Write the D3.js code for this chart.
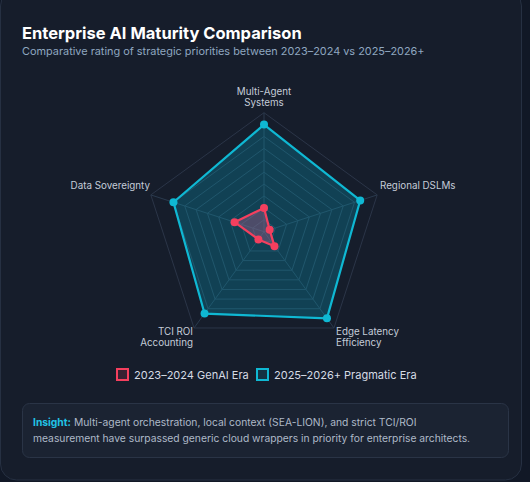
<!DOCTYPE html>
<html><head><meta charset="utf-8">
<script src="https://cdn.jsdelivr.net/npm/d3@7"></script>
<style>
body{margin:0;background:#111826;font-family:Inter,"Noto Sans",sans-serif;}
</style></head>
<body><svg id="chart" width="530" height="482"></svg>
<script>
const axes = [["Multi-Agent", "Systems"], ["Regional DSLMs"], ["Edge Latency", "Efficiency"], ["TCI ROI", "Accounting"], ["Data Sovereignty"]];
const era2023 = [2, 0.5, 1.5, 0.8, 2.6];
const era2025 = [9, 8.5, 9, 8.5, 8];
const levels = [1, 2, 3, 4, 5, 6, 7, 8];
const maxValue = 8 * 1.25;

const svg = d3.select("#chart");
// card
svg.append("rect").attr("x", 0.5).attr("y", -10).attr("width", 521).attr("height", 490)
  .attr("rx", 16).attr("fill", "#161d2b").attr("stroke", "#263042");
svg.append("text").attr("x", 22).attr("y", 39).text("Enterprise AI Maturity Comparison")
  .attr("fill", "#fff").attr("font-size", 16.5).attr("font-weight", 700);
svg.append("text").attr("x", 22).attr("y", 55).text("Comparative rating of strategic priorities between 2023–2024 vs 2025–2026+")
  .attr("fill", "#8fa7c0").attr("font-size", 10.9);

const cx = 264, cy = 231.7, R = 119;
const r = d3.scaleLinear().domain([0, maxValue]).range([0, R]);
const ang = i => i * 2 * Math.PI / axes.length;
const pt = (i, v) => [cx + r(v) * Math.sin(ang(i)), cy - r(v) * Math.cos(ang(i))];
const g = svg.append("g");

// grid
[...levels, maxValue].forEach(l => {
  g.append("polygon").attr("points", axes.map((a, i) => pt(i, l)).join(" "))
    .attr("fill", "none").attr("stroke", l === maxValue ? "#2b3548" : "#2a3a4e").attr("stroke-width", 1);
});
axes.forEach((a, i) => {
  g.append("line").attr("x1", cx).attr("y1", cy)
    .attr("x2", pt(i, maxValue)[0]).attr("y2", pt(i, maxValue)[1]).attr("stroke", "#2a3a4e");
});

function series(vals, col, fill) {
  g.append("polygon").attr("points", vals.map((v, i) => pt(i, v)).join(" "))
    .attr("fill", fill).attr("stroke", col).attr("stroke-width", 2.2).attr("stroke-linejoin", "round");
  g.selectAll(null).data(vals).enter().append("circle")
    .attr("cx", (v, i) => pt(i, v)[0]).attr("cy", (v, i) => pt(i, v)[1])
    .attr("r", 4).attr("fill", col);
}
series(era2025, "#0fb8d3", "rgba(8,160,190,0.28)");
series(era2023, "#f43f5e", "rgba(150,90,130,0.45)");

// axis labels
const labelPos = [[264, 95, "middle"], [380, 189, "start"], [336, 335, "start"], [193, 335, "end"], [150, 189, "end"]];
axes.forEach((a, i) => {
  const [x, y, anc] = labelPos[i];
  const t = g.append("text").attr("text-anchor", anc).attr("fill", "#c4ccd8").attr("font-size", 9.8);
  a.forEach((s, k) => t.append("tspan").attr("x", x).attr("y", y + k * 11).text(s));
});

// legend
const legend = [["2023–2024 GenAI Era", "#f43f5e", "rgba(244,63,94,0.15)", 117], ["2025–2026+ Pragmatic Era", "#0fb8d3", "rgba(15,184,211,0.15)", 257]];
legend.forEach(([t, c, f, x]) => {
  svg.append("rect").attr("x", x).attr("y", 369).attr("width", 11).attr("height", 11)
    .attr("fill", f).attr("stroke", c).attr("stroke-width", 2);
  svg.append("text").attr("x", x + 17).attr("y", 378.5).text(t).attr("fill", "#d5dbe4").attr("font-size", 11);
});

// insight
svg.append("rect").attr("x", 22.5).attr("y", 403.5).attr("width", 486).attr("height", 54)
  .attr("rx", 7).attr("fill", "#1b2332").attr("stroke", "#2a3446");
const ins = svg.append("text").attr("font-size", 10.3).attr("fill", "#aeb9c8");
const l1 = ins.append("tspan").attr("x", 33).attr("y", 426);
l1.append("tspan").text("Insight:").attr("fill", "#22c3e6").attr("font-weight", 700);
l1.append("tspan").text(" Multi-agent orchestration, local context (SEA-LION), and strict TCI/ROI");
ins.append("tspan").attr("x", 33).attr("y", 442).text("measurement have surpassed generic cloud wrappers in priority for enterprise architects.");
</script></body></html>
